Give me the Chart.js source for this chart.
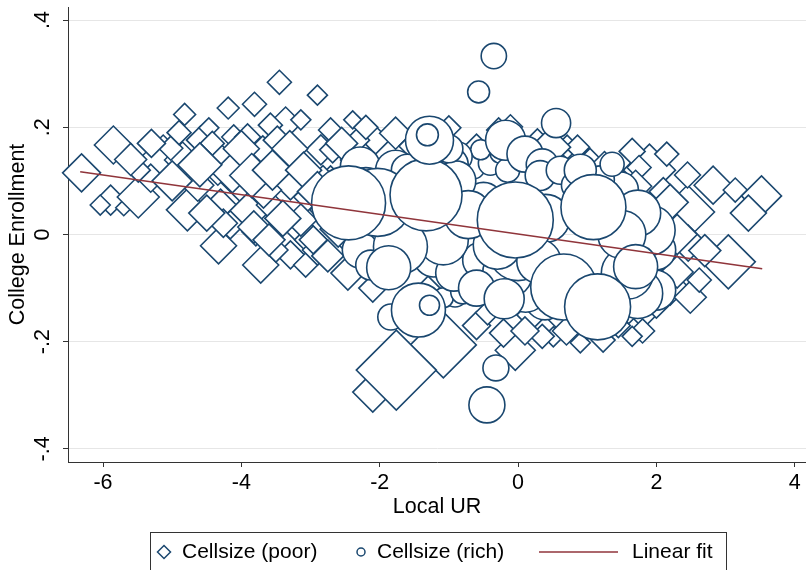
<!DOCTYPE html>
<html>
<head>
<meta charset="utf-8">
<script src="https://cdn.jsdelivr.net/npm/chart.js@4.4.1/dist/chart.umd.min.js"></script>
<style>
  html, body { margin: 0; padding: 0; background: #fff; }
  canvas { display: block; }
</style>
</head>
<body>
<canvas id="chart" width="806" height="570"></canvas>
<script>
// cells of poor households: local unemployment rate, enrollment residual, cell size
const poorX = [
  -6.31, -5.85, -5.89, -5.70, -5.49, -5.13, -4.82, -4.78, -4.19, -3.81,
  -3.45, -3.36, -4.11, -4.01, -4.85, -4.34, -4.30, -3.91, -4.33, -3.72,
  -5.31, -4.59, -4.63, -3.69, -3.29, -3.58, -3.15, -3.29, -2.85, -2.90,
  -2.39, -2.71, -2.46, -3.00, -2.64, -2.35, -2.06, -1.77, -3.14, -3.58,
  -4.47, -5.02, -5.49, -6.04, -3.79, -3.50, -4.16, -2.71, -2.28, -2.78,
  -2.49, -3.07, -2.90, -4.13, -3.68, -3.40, -3.04, -3.14, -2.96, -3.82,
  -4.26, -2.68, -2.32, -2.82, -3.48, -3.91, -4.42,
  -5.60, -5.00, -4.60, -4.50, -4.00, -3.85, -3.55, -3.30, -3.10, -2.90,
  -2.60, -2.75, -3.40, -3.60, -2.55, -2.20, -4.90, -5.30,
  -1.00, -0.28, -0.11, 0.28, 0.71, 0.86, 0.47, -1.52, -0.60, 1.04, 1.25, 1.45,
  2.45, 2.82, 2.45, 3.14, 3.52, 3.33, 3.04, 2.46, 1.90, 2.20,
  2.49, 1.81, 2.10, 1.65, 1.75, 2.05, 2.00, 2.62, 1.95,
  1.70, 2.30, 2.20, 2.70, 2.30, 1.80, 2.15,
  -2.10, -1.08, -1.76, -0.04, 0.51, 1.23, 0.90, -0.60, -0.21, 0.20,
  0.35, 1.00, 1.45, -1.30, -2.10, -0.44, 0.65, 1.65, 0.70, 1.60, 0.10
];
const poorY = [
  0.115, 0.167, 0.064, 0.050, 0.070, 0.139, 0.224, 0.046, 0.236, 0.243,
  0.284, 0.208, 0.182, 0.107, 0.139, 0.133, 0.051, 0.040, -0.021, -0.057,
  0.105, 0.176, 0.092, 0.158, 0.102, 0.055, 0.008, -0.038, 0.158, 0.260,
  0.214, 0.195, -0.072, -0.010, 0.064, 0.139, 0.176, 0.189, 0.214, 0.204,
  0.199, 0.161, 0.120, 0.055, 0.005, -0.029, 0.018, 0.102, 0.092, 0.046,
  -0.010, -0.057, -0.029, 0.115, 0.083, 0.133, 0.070, 0.027, -0.010, 0.014,
  0.021, 0.158, 0.176, 0.106, 0.176, 0.182, 0.170,
  0.140, 0.100, 0.130, 0.040, 0.160, 0.110, 0.120, 0.160, 0.120, 0.080,
  0.010, -0.040, 0.030, -0.010, 0.170, 0.200, 0.190, 0.170,
  0.199, 0.195, 0.201, 0.171, 0.163, 0.163, 0.163, 0.165, 0.165, 0.142, 0.125, 0.100,
  0.042, 0.092, 0.111, 0.083, 0.072, 0.040, -0.051, -0.016, 0.120, -0.098,
  -0.117, -0.147, 0.080, 0.155, 0.125, -0.040, -0.130, -0.085, 0.020,
  0.090, 0.000, 0.060, -0.030, -0.070, -0.180, 0.150,
  -0.294, -0.206, -0.253, -0.216, -0.191, -0.197, -0.202, -0.170, -0.184, -0.150,
  -0.190, -0.170, -0.170, -0.100, -0.100, -0.146, -0.160, -0.190, -0.180, -0.140, -0.180
];
const poorN = [
  90, 90, 56, 16, 110, 156, 30, 110, 30, 36,
  36, 64, 36, 156, 81, 121, 81, 100, 81, 81,
  49, 49, 64, 49, 100, 49, 56, 49, 56, 25,
  20, 36, 72, 64, 49, 56, 49, 64, 25, 36,
  25, 36, 36, 25, 49, 36, 49, 49, 36, 64,
  36, 36, 56, 100, 81, 56, 49, 64, 49, 64,
  49, 42, 36, 36, 49, 42, 36,
  64, 100, 121, 81, 81, 121, 100, 81, 81, 100,
  81, 64, 81, 64, 64, 36, 36, 49,
  36, 36, 36, 49, 36, 36, 100, 49, 36, 25, 64, 49,
  182, 90, 42, 36, 100, 81, 182, 81, 169, 81,
  64, 56, 49, 42, 36, 64, 49, 36, 56,
  64, 100, 81, 64, 64, 36, 36,
  100, 272, 400, 100, 25, 36, 25, 49, 49, 56,
  36, 49, 36, 36, 49, 36, 49, 25, 49, 49, 49
];

// cells of rich households
const richX = [
  -0.65, -0.40, -0.26, -0.15, -0.54, -1.22, -0.88, -0.18, 0.10, 0.35,
  0.32, 0.61, 1.48, 1.19, 0.83, -2.28, -1.77, -0.98, -2.28, -2.13,
  -0.69, -0.91, 1.99, 1.99, 1.91, 0.39, 0.11, -1.08, -0.80, -1.22,
  -0.93, -0.54, -1.08, -1.70, -0.15, 0.00, -1.87, 1.73, 1.58, 1.73,
  -0.30, -0.50, -0.90, 0.40, 0.30, -0.60, -0.20, 1.50, 1.70, 0.90,
  -1.60, -2.20, -1.00,
  -0.72, -2.03, -1.33, -2.45, -0.04, 1.09, 0.66, 1.15,
  -1.84, -1.44, -1.28, -1.28, -1.31, -0.35, -0.57, 0.55, 1.36, -0.32, -0.45
];
const richY = [
  0.126, 0.133, 0.152, 0.120, 0.158, 0.139, 0.145, 0.176, 0.150, 0.130,
  0.110, 0.120, 0.083, 0.102, 0.092, 0.126, 0.120, 0.130, -0.029, -0.057,
  -0.094, -0.113, -0.104, -0.029, 0.008, -0.122, -0.104, -0.118, -0.107, -0.042,
  -0.072, -0.048, -0.010, -0.023, -0.072, -0.030, -0.062, -0.110, -0.072, 0.040,
  -0.020, 0.060, 0.100, 0.030, -0.050, -0.100, -0.120, 0.000, -0.060, 0.120,
  0.120, 0.080, 0.160,
  0.037, 0.060, 0.074, 0.059, 0.027, 0.051, -0.098, -0.135,
  -0.154, -0.141, -0.132, 0.176, 0.186, 0.333, 0.266, 0.208, 0.131, -0.249, -0.318
];
const richN = [
  36, 36, 25, 36, 25, 56, 56, 100, 81, 64,
  56, 49, 81, 49, 49, 100, 100, 81, 81, 56,
  49, 36, 100, 100, 156, 100, 121, 25, 36, 100,
  81, 81, 156, 182, 156, 225, 121, 156, 169, 132,
  144, 100, 100, 144, 121, 81, 100, 144, 121, 64,
  64, 144, 49,
  144, 289, 324, 342, 361, 264, 272, 272,
  42, 182, 25, 144, 30, 40, 30, 53, 36, 42, 81
];

// fitted line end points
const fitX = [-6.33, 3.53];
const fitY = [0.117, -0.064];

const xTicks = [-6, -4, -2, 0, 2, 4];
const yTicks = [-0.4, -0.2, 0, 0.2, 0.4];

const navy = '#1a476f';
const maroon = '#90353b';
const fontFamily = '"Liberation Sans", Arial, Helvetica, sans-serif';

Chart.defaults.font.family = fontFamily;
Chart.defaults.font.size = 21.5;
Chart.defaults.color = '#000';

function cells(xs, ys, ns) {
  return xs.map((x, i) => ({ x: x, y: ys[i], r: 2 * Math.sqrt(ns[i]) }));
}

function yLabel(v) {
  if (Math.abs(v) < 1e-9) return '0';
  return String(Math.round(v * 10) / 10).replace('0.', '.');
}

// Stata style legend in a framed box under the plot
const boxLegend = {
  id: 'boxLegend',
  afterDraw(chart) {
    const ctx = chart.ctx;
    const ds = chart.data.datasets;
    const y = 552;
    ctx.save();
    ctx.strokeStyle = '#333';
    ctx.lineWidth = 1;
    ctx.strokeRect(150.5, 532.5, 576, 60);

    ctx.font = '21px ' + fontFamily;
    ctx.fillStyle = '#000';
    ctx.textBaseline = 'middle';

    ctx.strokeStyle = navy;
    ctx.lineWidth = 1.5;
    ctx.beginPath();
    ctx.moveTo(164, y - 6.5);
    ctx.lineTo(170.5, y);
    ctx.lineTo(164, y + 6.5);
    ctx.lineTo(157.5, y);
    ctx.closePath();
    ctx.stroke();
    ctx.fillText(ds[0].label, 182, y);

    ctx.beginPath();
    ctx.arc(361, y, 4, 0, Math.PI * 2);
    ctx.stroke();
    ctx.fillText(ds[1].label, 377, y);

    ctx.strokeStyle = maroon;
    ctx.lineWidth = 1.6;
    ctx.beginPath();
    ctx.moveTo(539, y);
    ctx.lineTo(618, y);
    ctx.stroke();
    ctx.fillText(ds[2].label, 632, y);
    ctx.restore();
  }
};

new Chart(document.getElementById('chart'), {
  type: 'bubble',
  data: {
    datasets: [
      {
        label: 'Cellsize (poor)',
        data: cells(poorX, poorY, poorN),
        pointStyle: 'rectRot',
        backgroundColor: '#ffffff',
        borderColor: navy,
        borderWidth: 1.6,
        clip: false,
        order: 2
      },
      {
        label: 'Cellsize (rich)',
        data: cells(richX, richY, richN),
        pointStyle: 'circle',
        backgroundColor: '#ffffff',
        borderColor: navy,
        borderWidth: 1.6,
        clip: false,
        order: 1
      },
      {
        type: 'line',
        label: 'Linear fit',
        data: fitX.map((x, i) => ({ x: x, y: fitY[i] })),
        borderColor: maroon,
        borderWidth: 1.6,
        pointRadius: 0,
        fill: false,
        order: 0
      }
    ]
  },
  options: {
    responsive: false,
    animation: false,
    events: [],
    layout: { autoPadding: false, padding: { top: 7, right: 0, bottom: 38, left: 0 } },
    plugins: {
      legend: { display: false },
      tooltip: { enabled: false }
    },
    scales: {
      x: {
        type: 'linear',
        min: -6.506,
        max: 4.163,
        afterBuildTicks: s => { s.ticks = xTicks.map(v => ({ value: v })); },
        afterFit: s => { s.height = 70; s.paddingLeft = 0; s.paddingRight = 0; },
        grid: { drawOnChartArea: false, tickLength: 5, tickColor: '#333' },
        border: { display: true, color: '#333', width: 1 },
        ticks: { padding: 3, maxRotation: 0, minRotation: 0, color: '#000' },
        title: { display: true, text: 'Local UR', color: '#000', padding: { top: 0, bottom: 12 } }
      },
      y: {
        type: 'linear',
        min: -0.4245,
        max: 0.4245,
        afterBuildTicks: s => { s.ticks = yTicks.map(v => ({ value: v })); },
        afterFit: s => { s.width = 68; s.paddingTop = 0; s.paddingBottom = 0; },
        grid: { color: '#e6e6e6', lineWidth: 1, tickLength: 5, tickColor: '#333' },
        border: { display: true, color: '#333', width: 1 },
        ticks: {
          minRotation: 90,
          maxRotation: 90,
          crossAlign: 'center',
          padding: 7.5,
          color: '#000',
          callback: v => yLabel(v)
        },
        title: { display: true, text: 'College Enrollment', color: '#000', padding: { top: 5, bottom: 0 } }
      }
    }
  },
  plugins: [boxLegend]
});
</script>
</body>
</html>
